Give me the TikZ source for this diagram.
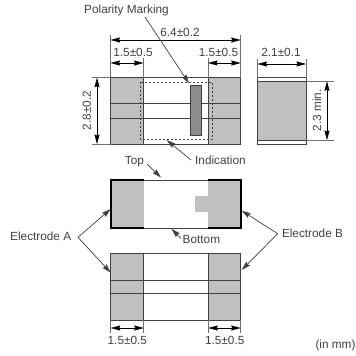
\documentclass[tikz,border=0pt]{standalone}
\usepackage{fontspec}
\setmainfont{Liberation Sans}
\usetikzlibrary{arrows.meta}
\definecolor{elec}{HTML}{C0C0C0}
\definecolor{mark}{HTML}{8C8C8C}
\definecolor{ink}{HTML}{404040}
\tikzset{
  x=1pt,y=-1pt,
  lbl/.style={font=\fontsize{11.8}{13}\selectfont,text=ink,inner sep=0pt},
  outl/.style={draw=ink,line width=0.8pt},
  thick outl/.style={draw=black,line width=1.7pt},
  thin outl/.style={draw=ink,line width=0.6pt},
  ext/.style={draw=ink!75,line width=0.6pt},
  dim/.style={draw=black,line width=0.6pt,{Stealth[length=9.5pt,width=5pt,inset=1pt]}-{Stealth[length=9.5pt,width=5pt,inset=1pt]}},
  lead/.style={draw=ink,line width=0.7pt,-{Stealth[length=9pt,width=5.2pt,inset=1pt]}},
  elecfill/.style={fill=elec,draw=none},
}
\begin{document}
\begin{tikzpicture}
\useasboundingbox (0,0) rectangle (356,356);
\fill[white] (0,0) rectangle (356,356);

% ---- Top view
\fill[elecfill] (110.5,77.7) rectangle (143.5,144);
\fill[elecfill] (208,77.7) rectangle (240.7,144);
\draw[outl] (110.5,77.7) rectangle (240.7,144);
\draw[thin outl] (143.5,77.7) -- (143.5,144) (208,77.7) -- (208,144);
\draw[thin outl] (110.5,103.7) -- (240.7,103.7) (110.5,118) -- (240.7,118);
\draw[fill=mark,draw=ink,line width=0.6pt] (190.7,85.7) rectangle (201.3,135.7);
\draw[draw=ink,line width=0.6pt,dash pattern=on 2.4pt off 1.6pt] (140,82) rectangle (212.3,139.3);

% extension lines, top view
\draw[ext] (110.5,35) -- (110.5,77.7) (240.7,35) -- (240.7,77.7);
\draw[ext] (143.5,57.5) -- (143.5,77.7) (208,57.5) -- (208,77.7);
\draw[ext] (92,77.7) -- (110.5,77.7) (92,144) -- (110.5,144);
\coordinate (wl) at (110.5,40); \coordinate (wr) at (240.7,40);
\draw[dim] (wl) -- (wr);
\coordinate (al) at (110.5,63); \coordinate (ar) at (143.5,63);
\draw[dim] (al) -- (ar);
\coordinate (bl) at (208,63); \coordinate (br) at (240.7,63);
\draw[dim] (bl) -- (br);
\coordinate (ht) at (97,77.7); \coordinate (hb) at (97,144);
\draw[dim] (ht) -- (hb);
\node[lbl] (w64) at (180,32) {6.4±0.2};
\node[lbl] (a15) at (133,52) {1.5±0.5};
\node[lbl] (b15) at (218.5,52) {1.5±0.5};
\node[lbl,rotate=90] (h28) at (86.7,110.5) {2.8±0.2};

% ---- Side view
\fill[elecfill] (257.5,81.3) rectangle (306,140);
\draw[outl] (257.5,77.5) rectangle (306,144);
\draw[thin outl] (257.5,81.3) -- (306,81.3) (257.5,140) -- (306,140);
\draw[ext] (257.5,59) -- (257.5,77.5) (306,59) -- (306,77.5);
\draw[ext] (306,81.3) -- (334,81.3) (306,140) -- (334,140);
\coordinate (sl) at (257.5,64); \coordinate (sr) at (306,64);
\draw[dim] (sl) -- (sr);
\coordinate (st) at (327,81.3); \coordinate (sb) at (327,140);
\draw[dim] (st) -- (sb);
\node[lbl] (s21) at (281,52) {2.1±0.1};
\node[lbl,rotate=90] (s23) at (317,110.5) {2.3 min.};

% ---- Middle view (top side)
\fill[elecfill] (111,180) rectangle (144,228);
\fill[elecfill] (208.3,180) rectangle (240.7,228);
\fill[elecfill] (195.3,195.7) rectangle (208.3,212.3);
\draw[thin outl] (144,180) -- (208.3,180) (144,228) -- (208.3,228);
\draw[thick outl,line join=miter] (144,180) -- (111,180) -- (111,228) -- (144,228);
\draw[thick outl,line join=miter] (208.3,180) -- (240.7,180) -- (240.7,228) -- (208.3,228);

% ---- Bottom view
\fill[elecfill] (110.7,253.7) rectangle (143.7,320);
\fill[elecfill] (208.3,253.7) rectangle (240.7,320);
\draw[outl] (110.7,253.7) rectangle (240.7,320);
\draw[thin outl] (143.7,253.7) -- (143.7,320) (208.3,253.7) -- (208.3,320);
\draw[thin outl] (110.7,280) -- (240.7,280) (110.7,293.7) -- (240.7,293.7);
\draw[ext] (110.7,320) -- (110.7,333) (143.7,320) -- (143.7,333)
           (208.3,320) -- (208.3,333) (240.7,320) -- (240.7,333);
\coordinate (cl) at (110.7,328); \coordinate (cr) at (143.7,328);
\draw[dim] (cl) -- (cr);
\coordinate (dl) at (208.3,328); \coordinate (dr) at (240.7,328);
\draw[dim] (dl) -- (dr);
\node[lbl] (c15) at (127.3,340) {1.5±0.5};
\node[lbl] (d15) at (224.7,340) {1.5±0.5};
\node[lbl] (mm) at (335.5,345) {(in mm)};

% ---- Callouts
\node[lbl] (pol) at (126.5,10) {Polarity Marking};
\coordinate (polA) at (145,17); \coordinate (polB) at (189,83.3);
\draw[lead] (polA) -- (polB);
\node[lbl,anchor=west] (ind) at (195,160) {Indication};
\coordinate (indA) at (191,160); \coordinate (indB) at (166.7,140);
\draw[lead] (indA) -- (indB);
\node[lbl] (top) at (134.5,162) {Top};
\coordinate (topA) at (147,164); \coordinate (topB) at (161,177.5);
\draw[lead] (topA) -- (topB);
\node[lbl,anchor=west] (bot) at (182.5,239) {Bottom};
\coordinate (botA) at (181,238.5); \coordinate (botB) at (171.5,228.8);
\draw[lead] (botA) -- (botB);
\node[lbl] (ea) at (40.7,236) {Electrode A};
\coordinate (eaJ) at (78,237.3);
\coordinate (eaT) at (110.7,209); \coordinate (eaB) at (110.7,272.7);
\draw[lead] (eaJ) -- (eaT);
\draw[lead] (eaJ) -- (eaB);
\node[lbl] (eb) at (312.5,233.5) {Electrode B};
\coordinate (ebJ) at (277.7,233.7);
\coordinate (ebT) at (241.7,210.7); \coordinate (ebB) at (241.7,270);
\draw[lead] (ebJ) -- (ebT);
\draw[lead] (ebJ) -- (ebB);
\end{tikzpicture}
\end{document}
